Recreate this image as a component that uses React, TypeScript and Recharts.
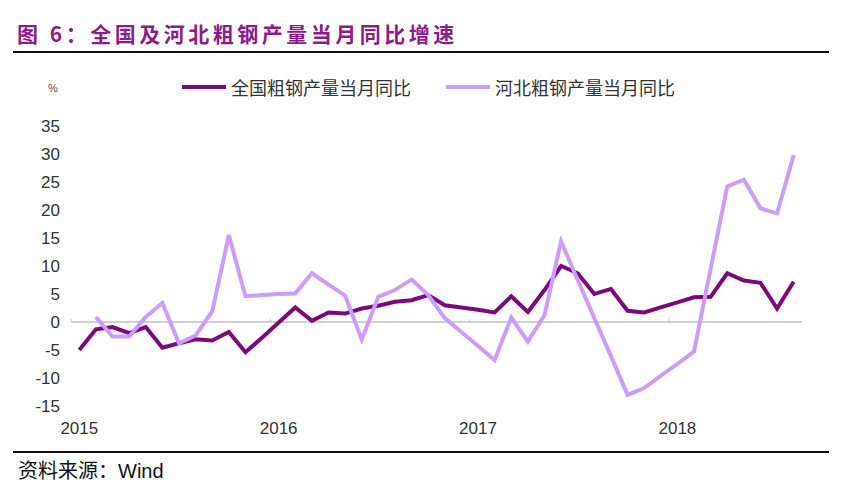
import React from "react";
import { LineChart, Line, XAxis, YAxis, ReferenceLine } from "recharts";

// monthly, Jan 2015 .. Aug 2018
const months = Array.from({ length: 44 }, (_, i) => i);
const yearTicks = [0, 12, 24, 36];
const yearLabels = ["2015", "2016", "2017", "2018"];
const yTicks = [-15, -10, -5, 0, 5, 10, 15, 20, 25, 30, 35];

const national = [
  -5.0, -1.3, -0.9, -2.0, -0.9, -4.6, -3.8, -3.1, -3.3, -1.8, -5.4, -2.8,
  -0.1, 2.6, 0.2, 1.7, 1.5, 2.4, 2.9, 3.6, 3.9, 4.8, 3.0, 2.6,
  2.2, 1.7, 4.6, 1.8, 5.7, 10.0, 8.7, 5.0, 5.9, 2.0, 1.7, 2.6,
  3.5, 4.4, 4.5, 8.7, 7.4, 7.0, 2.4, 7.2
];
const hebei = [
  null, 0.9, -2.6, -2.6, 0.9, 3.4, -3.8, -2.4, 1.9, 15.5, 4.6, 4.8,
  5.0, 5.1, 8.7, 6.7, 4.7, -3.1, 4.5, 5.7, 7.6, 4.8, 0.7, -1.8,
  -4.3, -6.8, 0.8, -3.5, 1.2, 14.4, 7.5, 0.7, -6.1, -13.0, -11.8, -9.6,
  -7.5, -5.3, 9.5, 24.2, 25.4, 20.3, 19.4, 29.8
];

const seriesNames = ["全国粗钢产量当月同比", "河北粗钢产量当月同比"];
const DARK = "#7a0a7c";
const LIGHT = "#cc9cff";
const FONT = "'Liberation Sans', 'Noto Sans CJK SC', sans-serif";

const data = months.map((i) => ({ i, national: national[i], hebei: hebei[i] }));

function LegendBox() {
  const items = [
    { name: seriesNames[0], color: DARK, left: 182 },
    { name: seriesNames[1], color: LIGHT, left: 446 }
  ];
  return (
    <>
      {items.map((it) => (
        <div key={it.name} style={{ position: "absolute", left: it.left, top: 74, display: "flex", alignItems: "center" }}>
          <span style={{ display: "inline-block", width: 44, height: 4, background: it.color, marginRight: 5 }} />
          <span style={{ fontSize: 18, color: "#333", fontFamily: FONT }}>{it.name}</span>
        </div>
      ))}
    </>
  );
}

export default function App() {
  return (
    <div style={{ position: "absolute", left: 0, top: 0, width: 849, height: 500, background: "#fff", fontFamily: FONT }}>
      <div
        style={{
          position: "absolute", left: 17, top: 18, fontSize: 21, fontWeight: 700, color: "#8b1c8b",
          letterSpacing: 3.5, fontFamily: "'Noto Sans CJK SC', sans-serif", whiteSpace: "nowrap"
        }}
      >
        图 6：全国及河北粗钢产量当月同比增速
      </div>
      <div style={{ position: "absolute", left: 13, top: 51, width: 816, height: 2, background: "#111" }} />
      <div style={{ position: "absolute", left: 48, top: 82, fontSize: 11, color: "#555" }}>%</div>
      <LegendBox />

      <LineChart width={849} height={500} data={data} margin={{ top: 126, right: 47, bottom: 64, left: 0 }}>
        <XAxis
          type="number"
          dataKey="i"
          domain={[-0.5, 43.5]}
          ticks={yearTicks}
          tickFormatter={(v) => yearLabels[yearTicks.indexOf(v)]}
          axisLine={false}
          tickLine={false}
          tickMargin={10}
          height={30}
          tick={{ fontSize: 17, fill: "#333" }}
        />
        <YAxis
          domain={[-15, 35]}
          ticks={yTicks}
          axisLine={false}
          tickLine={false}
          tickMargin={5}
          width={71}
          interval={0}
          tick={{ fontSize: 17, fill: "#333" }}
        />
        <ReferenceLine y={0} stroke="#d0d0d0" strokeWidth={2} />
        {[-0.5, 11.5, 23.5, 35.5].map((x) => (
          <ReferenceLine key={x} segment={[{ x, y: 0 }, { x, y: 0.6 }]} stroke="#c8c8c8" strokeWidth={1} />
        ))}
        <Line dataKey="national" name={seriesNames[0]} stroke={DARK} strokeWidth={4} dot={false} isAnimationActive={false} />
        <Line dataKey="hebei" name={seriesNames[1]} stroke={LIGHT} strokeWidth={4} dot={false} isAnimationActive={false} />
      </LineChart>

      <div style={{ position: "absolute", left: 13, top: 451, width: 816, height: 2, background: "#111" }} />
      <div style={{ position: "absolute", left: 18, top: 455, fontSize: 20, color: "#111", whiteSpace: "nowrap" }}>
        资料来源：Wind
      </div>
    </div>
  );
}
